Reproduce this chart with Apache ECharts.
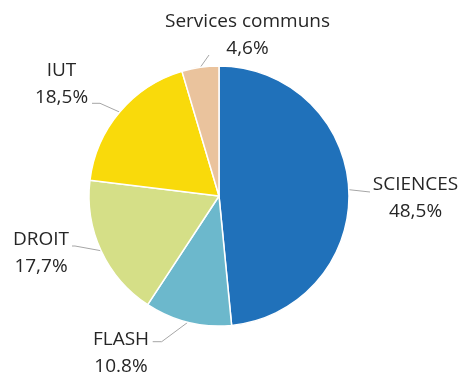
<!DOCTYPE html>
<html>
<head>
<meta charset="utf-8">
<script src="https://cdn.jsdelivr.net/npm/echarts@6/dist/echarts.min.js"></script>
<style>
  html, body { margin: 0; padding: 0; background: #fff; }
  #chart { width: 460px; height: 374px; }
</style>
</head>
<body>
<div id="chart"></div>
<script>
// Budget share by component (percent)
const categories = ['SCIENCES', 'FLASH', 'DROIT', 'IUT', 'Services communs'];
const shares = [48.5, 10.8, 17.7, 18.5, 4.6];
const shareLabels = ['48,5%', '10.8%', '17,7%', '18,5%', '4,6%'];
const colors = ['#2071BA', '#6CB8CC', '#D5DF87', '#F9DA0B', '#EAC39D'];

// Label placement: block centre, leader-line end offset from that centre,
// and the length of the short horizontal run next to the text.
const labelCentres = [[415.5, 198.5], [121, 353], [41, 253.5], [61.5, 83.6], [247.5, 35.3]];
const leaderEnds = [[-45.5, -6.5], [31.7, -11.3], [31, -7.5], [30.5, 19.7], [-38.5, 19.7]];
const leaderRuns = [0, 9, 3, 8, 0];

const chart = echarts.init(document.getElementById('chart'), null, { renderer: 'canvas' });

chart.setOption({
  animation: false,
  series: [{
    type: 'pie',
    center: [219, 196],
    radius: 130,
    startAngle: 90,
    clockwise: true,
    itemStyle: { borderColor: '#ffffff', borderWidth: 1.5 },
    label: {
      position: 'outside',
      formatter: p => categories[p.dataIndex] + '\n' + shareLabels[p.dataIndex],
      fontFamily: 'Open Sans',
      fontSize: 19,
      lineHeight: 27,
      color: '#262626',
      overflow: 'none'
    },
    labelLine: {
      show: true,
      length: 10,
      length2: 10,
      lineStyle: { color: '#A6A6A6', width: 1 }
    },
    labelLayout: function (params) {
      const i = params.dataIndex;
      const c = labelCentres[i];
      const anchor = params.labelLinePoints ? params.labelLinePoints[0] : c;
      const end = [c[0] + leaderEnds[i][0], c[1] + leaderEnds[i][1]];
      const dir = leaderEnds[i][0] >= 0 ? 1 : -1;
      const elbow = [end[0] + dir * leaderRuns[i], end[1]];
      return {
        x: c[0],
        y: c[1],
        align: 'center',
        verticalAlign: 'middle',
        labelLinePoints: [anchor, elbow, end]
      };
    },
    data: categories.map((name, i) => ({
      name: name,
      value: shares[i],
      itemStyle: { color: colors[i] }
    }))
  }]
});
</script>
</body>
</html>
